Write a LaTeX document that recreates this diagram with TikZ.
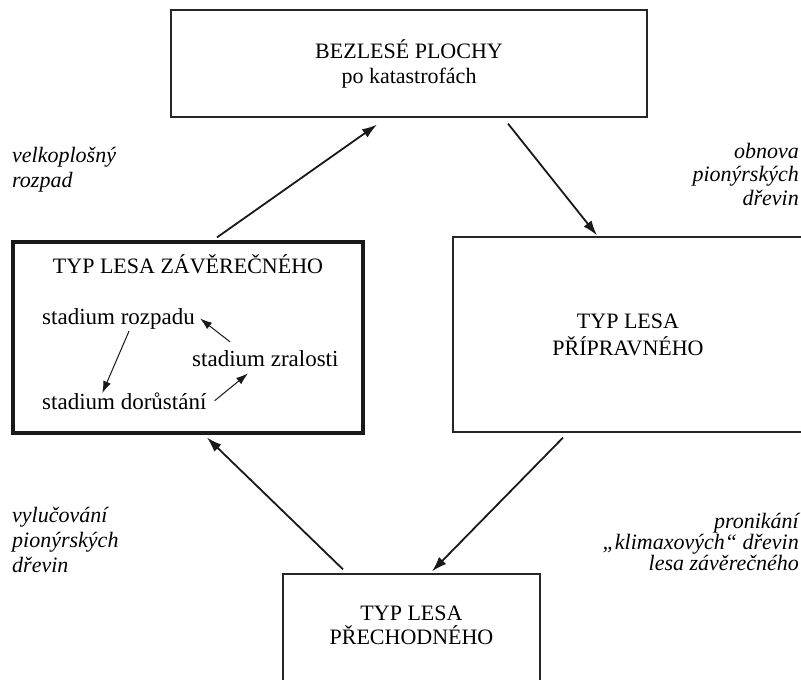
\documentclass[tikz,border=0pt]{standalone}
\usepackage{fontspec}
\setmainfont{Liberation Serif}
\usetikzlibrary{arrows.meta}

\begin{document}
\begin{tikzpicture}[x=1pt,y=-1pt,>={Latex[length=15pt,width=10pt]},
  font=\fontsize{22}{25}\selectfont,
  box/.style={draw=black!85,line width=1.3pt,inner sep=0pt,align=center},
  lbl/.style={inner sep=0pt,font=\fontsize{22}{25}\selectfont\itshape},
  stage/.style={inner sep=0pt,anchor=base west,font=\fontsize{23}{25}\selectfont},
  arr/.style={->,line width=1.8pt,black!90},
  sarr/.style={->,>={Latex[length=12pt,width=8pt]},line width=1pt,black!90}]
\useasboundingbox (0,0) rectangle (801,680);
\clip (0,0) rectangle (801,680);
% boxes
\node[box,minimum width=476pt,minimum height=107pt] (bez) at (409,63.5)
  {BEZLESÉ PLOCHY\\po katastrofách};
\node[box,line width=3.2pt,draw=black!90,minimum width=350pt,minimum height=191pt] (zav) at (188,337.5) {};
\node[box,minimum width=350pt,minimum height=195pt,font=\fontsize{22}{27}\selectfont] (prip) at (628,334.5)
  {TYP LESA\\PŘÍPRAVNÉHO};
\node[box,minimum width=257pt,minimum height=146pt] (prech) at (411.5,647) {};
\node[inner sep=0pt,align=center,font=\fontsize{22}{24}\selectfont] (prechtxt) at (411.5,625) {TYP LESA\\PŘECHODNÉHO};
% inside the climax box
\node[inner sep=0pt,anchor=base] (zavtxt) at (188,273) {TYP LESA ZÁVĚREČNÉHO};
\node[stage] (rozp) at (42,324) {stadium rozpadu};
\node[stage] (zral) at (192,366) {stadium zralosti};
\node[stage] (dor) at (42,409) {stadium dorůstání};
\draw[sarr] ([shift={(10.5,2)}]rozp.south) -- ([shift={(-22,1)}]dor.north);
\draw[sarr] ([shift={(38,-8)}]zral.north west) -- ([xshift=5pt]rozp.east);
\draw[sarr] ([xshift=8pt]dor.east) -- ([shift={(56,7)}]zral.south west);
% cycle
\draw[arr] ([shift={(29,-3)}]zav.north) -- ([shift={(-32,7)}]bez.south);
\draw[arr] ([shift={(99,6)}]bez.south) -- ([shift={(-31,-1)}]prip.north);
\draw[arr] ([shift={(-65,5)}]prip.south) -- ([shift={(20.5,-2)}]prech.north);
\draw[arr] ([shift={(-68.5,-4)}]prech.north) -- ([shift={(19,3)}]zav.south);
% labels
\node[lbl,anchor=north east,align=right,font=\fontsize{22}{23.5}\selectfont\itshape] (obnova) at (799,143)
  {obnova\\pionýrských\\dřevin};
\node[lbl,anchor=north west,align=left] (rozpad) at (12,147) {velkoplošný\\rozpad};
\node[lbl,anchor=north west,align=left] (vyluc) at (12,507) {vylučování\\pionýrských\\dřevin};
\node[lbl,anchor=north east,align=right,font=\fontsize{22}{21}\selectfont\itshape] (pronik) at (799,513)
  {pronikání\\„klimaxových“ dřevin\\lesa závěrečného};
\end{tikzpicture}
\end{document}
